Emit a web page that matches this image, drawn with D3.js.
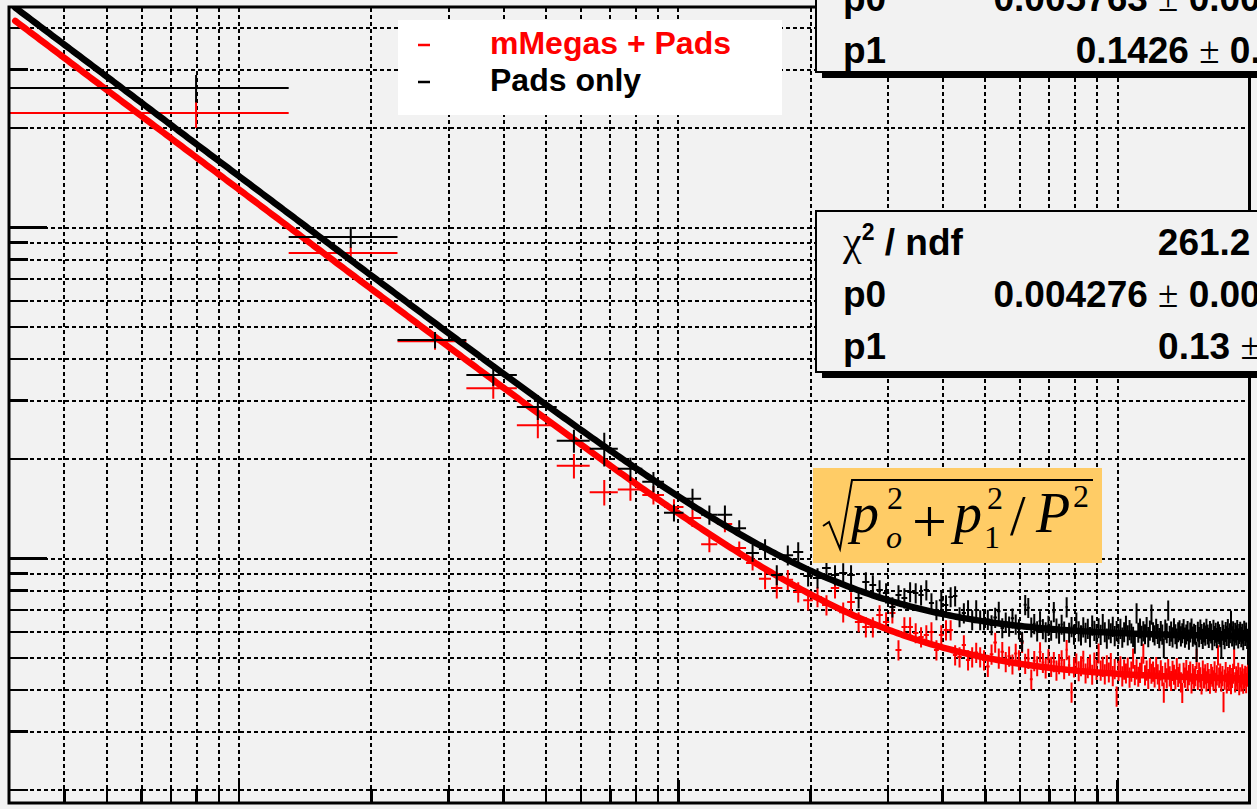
<!DOCTYPE html>
<html>
<head>
<meta charset="utf-8">
<script src="https://cdn.jsdelivr.net/npm/d3@7"></script>
<style>
  html, body { margin: 0; padding: 0; background: #f2f2f2; overflow: hidden; }
  svg { display: block; }
</style>
</head>
<body>
<svg id="chart" width="1257" height="809"></svg>
<script>
// Momentum bins: 1 GeV/c wide, first bin starts at 0.3 GeV/c
const binStart = 0.3;
const binWidth = 1;

// Resolution per bin, "Pads only" (black)
const resPads = [
  0.263, 0.0933, 0.0456, 0.0357, 0.0286, 0.0226, 0.0214, 0.0186, 0.0170, 0.0137,
  0.0151, 0.0135, 0.0135, 0.0123, 0.01035, 0.01064, 0.00889, 0.0102, 0.01043, 0.00882,
  0.00870, 0.00933, 0.00888, 0.00901, 0.00888, 0.00757, 0.00846, 0.00829, 0.00800, 0.00784,
  0.00711, 0.00773, 0.00757, 0.00790, 0.00784, 0.00773, 0.00800, 0.00731, 0.00697, 0.00746,
  0.00721, 0.00763, 0.00768, 0.00664, 0.00682, 0.00697, 0.00650, 0.00697, 0.00650, 0.00650,
  0.00652, 0.00628, 0.00661, 0.00690, 0.00615, 0.00640, 0.00622, 0.00658, 0.00631, 0.00610,
  0.00560, 0.00722, 0.00708, 0.00618, 0.00633, 0.00602, 0.00645, 0.00611, 0.00598, 0.00625,
  0.00605, 0.00688, 0.00614, 0.00592, 0.00630, 0.00601, 0.00711, 0.00596, 0.00620, 0.00588,
  0.00640, 0.00602, 0.00585, 0.00619, 0.00596, 0.00612, 0.00578, 0.00626, 0.00604, 0.00591,
  0.00615, 0.00587, 0.00633, 0.00598, 0.00572, 0.00610, 0.00594, 0.00621, 0.00582, 0.00603,
  0.00590, 0.00612, 0.00576, 0.00598, 0.00625, 0.00585, 0.00607, 0.00593, 0.00579, 0.00552,
  0.00682, 0.00596, 0.00614, 0.00583, 0.00602, 0.00590, 0.00620, 0.00578, 0.00605, 0.00676,
  0.00598, 0.00585, 0.00612, 0.00591, 0.00574, 0.00603, 0.00588, 0.00535, 0.00609, 0.00594,
  0.00695, 0.00583, 0.00601, 0.00577, 0.00615, 0.00590, 0.00572, 0.00598, 0.00606, 0.00581,
  0.00594, 0.00611, 0.00576, 0.00589, 0.00603, 0.00568, 0.00597, 0.00614, 0.00580, 0.00592,
  0.00586, 0.00522, 0.00600, 0.00578, 0.00609, 0.00591, 0.00571, 0.00597, 0.00584, 0.00612,
  0.00589, 0.00575, 0.00603, 0.00593, 0.00566, 0.00608, 0.00582, 0.00596, 0.00574, 0.00601,
  0.00590, 0.00578, 0.00540, 0.00605, 0.00587, 0.00570, 0.00599, 0.00583, 0.00611, 0.00575,
  0.00594, 0.00648, 0.00581, 0.00602, 0.00569, 0.00596, 0.00585, 0.00607, 0.00573, 0.00591,
  0.00600, 0.00578, 0.00592, 0.00566, 0.00604, 0.00583, 0.00597, 0.00571, 0.00512, 0.00589
];

// Resolution per bin, "mMegas + Pads" (red)
const resMMPads = [
  0.221, 0.0835, 0.0452, 0.0326, 0.0252, 0.0190, 0.0158, 0.0161, 0.0155, 0.01425,
  0.0132, 0.0110, 0.01267, 0.01072, 0.00966, 0.00865, 0.00812, 0.00860, 0.00789, 0.00746,
  0.00763, 0.00721, 0.00812, 0.00686, 0.00736, 0.00641, 0.00619, 0.00619, 0.00673, 0.00641,
  0.00682, 0.00527, 0.00619, 0.00619, 0.00594, 0.00577, 0.00585, 0.00598, 0.00527, 0.00585,
  0.00606, 0.00606, 0.00509, 0.00502, 0.00546, 0.00492, 0.00502, 0.00518, 0.00502, 0.00492,
  0.00470, 0.00512, 0.00556, 0.00498, 0.00521, 0.00486, 0.00505, 0.00478, 0.00515, 0.00492,
  0.00555, 0.00480, 0.00497, 0.00430, 0.00489, 0.00472, 0.00520, 0.00483, 0.00465, 0.00495,
  0.00470, 0.00486, 0.00458, 0.00479, 0.00492, 0.00463, 0.00528, 0.00474, 0.00393, 0.00468,
  0.00481, 0.00456, 0.00472, 0.00490, 0.00449, 0.00466, 0.00478, 0.00445, 0.00484, 0.00460,
  0.00516, 0.00458, 0.00470, 0.00446, 0.00475, 0.00452, 0.00483, 0.00441, 0.00463, 0.00382,
  0.00457, 0.00472, 0.00440, 0.00461, 0.00449, 0.00468, 0.00436, 0.00455, 0.00498, 0.00444,
  0.00462, 0.00439, 0.00451, 0.00470, 0.00515, 0.00443, 0.00458, 0.00432, 0.00466, 0.00448,
  0.00455, 0.00437, 0.00469, 0.00446, 0.00428, 0.00459, 0.00441, 0.00393, 0.00452, 0.00434,
  0.00463, 0.00440, 0.00426, 0.00457, 0.00445, 0.00431, 0.00466, 0.00438, 0.00449, 0.00422,
  0.00392, 0.00451, 0.00436, 0.00460, 0.00427, 0.00444, 0.00455, 0.00419, 0.00447, 0.00433,
  0.00441, 0.00497, 0.00429, 0.00452, 0.00437, 0.00416, 0.00458, 0.00434, 0.00446, 0.00425,
  0.00450, 0.00432, 0.00418, 0.00447, 0.00439, 0.00428, 0.00456, 0.00421, 0.00443, 0.00509,
  0.00436, 0.00449, 0.00424, 0.00441, 0.00368, 0.00430, 0.00453, 0.00419, 0.00438, 0.00426,
  0.00445, 0.00417, 0.00435, 0.00448, 0.00497, 0.00422, 0.00440, 0.00429, 0.00451, 0.00414,
  0.00437, 0.00425, 0.00446, 0.00418, 0.00433, 0.00442, 0.00420, 0.00439, 0.00490, 0.00366
];

// Errors of the low-momentum bins; higher bins carry a typical relative error
const errPads   = [0.025, 0.0067, 0.0026, 0.0026, 0.0025, 0.0018, 0.0025, 0.0015, 0.0012, 0.0008, 0.0011, 0.0009, 0.0009, 0.0007, 0.0006];
const errMMPads = [0.022, 0.0035, 0.0026, 0.0023, 0.0022, 0.0016, 0.0014, 0.0012, 0.0010, 0.0008, 0.0008, 0.0006, 0.0007, 0.0005, 0.0005];
const relErrHigh = 0.07;

// Fit results of sqrt(p0^2 + p1^2/P^2)
const fitPads   = { p0: 0.005763, p1: 0.1426 };
const fitMMPads = { p0: 0.004276, p1: 0.13 };
const fitRange  = [0.31, 200];

// Axis ranges and grid positions
const xDomain = [0.3, 200.3];
const yDomain = [0.001819, 0.4621];
const xMajor = [1, 10, 100];
const xMinor = [0.4, 0.5, 0.6, 0.7, 0.8, 0.9, 2, 3, 4, 5, 6, 7, 8, 9, 20, 30, 40, 50, 60, 70, 80, 90];
const yMajor = [0.01, 0.1];
const yMinor = [0.002, 0.003, 0.004, 0.005, 0.006, 0.007, 0.008, 0.009,
                0.02, 0.03, 0.04, 0.05, 0.06, 0.07, 0.08, 0.09, 0.2, 0.3, 0.4];

// Legend and statistics boxes
const legendLabels = ["mMegas + Pads", "Pads only"];
const legendColors = ["#ff0000", "#000000"];
const statsMMPads = [["chi2", "261.2 / 197"], ["p0", "0.004276 ± 0.000065"], ["p1", "0.13 ± 0.00"]];
const statsPads   = [["p0", "0.005763 ± 0.000071"], ["p1", "0.1426 ± 0.0012"]];

const svg = d3.select("#chart");
const W = 1257, H = 809;
const frame = { left: 9, right: 1249.5, top: 7, bottom: 803 };

svg.append("rect").attr("width", W).attr("height", H).attr("fill", "#f2f2f2");

const x = d3.scaleLog().domain(xDomain).range([frame.left, frame.right]);
const y = d3.scaleLog().domain(yDomain).range([frame.bottom, frame.top]);

svg.append("defs").append("clipPath").attr("id", "plotClip")
  .append("rect")
  .attr("x", frame.left).attr("y", frame.top)
  .attr("width", frame.right - frame.left).attr("height", frame.bottom - frame.top);

// Dashed grid
const grid = svg.append("g");
const xGridVals = xMajor.concat(xMinor);
const yGridVals = yMajor.concat(yMinor);
grid.append("g")
  .attr("transform", `translate(0,${frame.bottom})`)
  .call(d3.axisBottom(x).tickValues(xGridVals).tickSize(-(frame.bottom - frame.top)).tickFormat(""))
  .call(g => g.select(".domain").remove());
grid.append("g")
  .attr("transform", `translate(${frame.left},0)`)
  .call(d3.axisLeft(y).tickValues(yGridVals).tickSize(-(frame.right - frame.left)).tickFormat(""))
  .call(g => g.select(".domain").remove());
grid.selectAll("line")
  .attr("stroke", "#000").attr("stroke-width", 2).attr("stroke-dasharray", "4,3")
  .attr("shape-rendering", "crispEdges");

// Axis ticks pointing into the frame
function ticks(axisFn, scale, vals, len, transform) {
  svg.append("g").attr("transform", transform)
    .call(axisFn(scale).tickValues(vals).tickSize(-len).tickFormat(""))
    .call(g => g.select(".domain").remove())
    .selectAll("line").attr("stroke", "#000").attr("stroke-width", 2.5)
    .attr("shape-rendering", "crispEdges");
}
ticks(d3.axisBottom, x, xMinor, 14, `translate(0,${frame.bottom})`);
ticks(d3.axisBottom, x, xMajor, 23, `translate(0,${frame.bottom})`);
ticks(d3.axisLeft, y, yMinor, 19, `translate(${frame.left},0)`);
ticks(d3.axisLeft, y, yMajor, 38, `translate(${frame.left},0)`);

// Histograms with error crosses and their fits
const plot = svg.append("g").attr("clip-path", "url(#plotClip)");

function drawHist(vals, errs, color) {
  const pts = vals.map((v, i) => {
    const c = binStart + binWidth * (i + 0.5);
    const e = i < errs.length ? errs[i] : v * relErrHigh;
    return { c, v, e };
  });
  plot.append("g").selectAll("path").data(pts).join("path")
    .attr("d", d => `M${x(d.c - binWidth / 2)},${y(d.v)}H${x(d.c + binWidth / 2)}` +
                    `M${x(d.c)},${y(d.v + d.e)}V${y(Math.max(d.v - d.e, 1e-5))}`)
    .attr("fill", "none").attr("stroke", color).attr("stroke-width", 2);
}

function drawFit(fit, color) {
  const n = 400;
  const ps = d3.range(n + 1).map(k => fitRange[0] * Math.pow(fitRange[1] / fitRange[0], k / n));
  const line = d3.line()
    .x(p => x(p))
    .y(p => y(Math.sqrt(fit.p0 * fit.p0 + (fit.p1 * fit.p1) / (p * p))));
  plot.append("path").datum(ps).attr("d", line)
    .attr("fill", "none").attr("stroke", color).attr("stroke-width", 6.5)
    .attr("stroke-linecap", "round").attr("stroke-linejoin", "round");
}

drawHist(resMMPads, errMMPads, "#ff0000");
drawFit(fitMMPads, "#ff0000");
drawHist(resPads, errPads, "#000000");
drawFit(fitPads, "#000000");

// Frame
svg.append("rect")
  .attr("x", frame.left).attr("y", frame.top)
  .attr("width", frame.right - frame.left).attr("height", frame.bottom - frame.top)
  .attr("fill", "none").attr("stroke", "#000").attr("stroke-width", 3);

// Legend
const legend = svg.append("g");
legend.append("rect").attr("x", 398).attr("y", 20).attr("width", 384).attr("height", 95).attr("fill", "#ffffff");
legendLabels.forEach((lab, i) => {
  const yy = 45 + i * 37;
  legend.append("line").attr("x1", 418).attr("x2", 430).attr("y1", yy).attr("y2", yy)
    .attr("stroke", legendColors[i]).attr("stroke-width", 2.5);
  legend.append("text").attr("x", 490).attr("y", yy + 9)
    .attr("font-family", "'Liberation Sans', Arial, sans-serif").attr("font-weight", "bold")
    .attr("font-size", 32).attr("fill", legendColors[i]).text(lab);
});

// Statistics boxes
const statFont = "'Liberation Sans', Arial, sans-serif";
const symFont = "'Liberation Serif', 'Times New Roman', serif";
function statsBox(boxTop, boxH, firstBaseline, rows) {
  const g = svg.append("g");
  const bx = 816, bw = 600, rowH = 52;
  g.append("rect").attr("x", bx + 6).attr("y", boxTop + 6).attr("width", bw).attr("height", boxH).attr("fill", "#000");
  g.append("rect").attr("x", bx).attr("y", boxTop).attr("width", bw).attr("height", boxH)
    .attr("fill", "#f2f2f2").attr("stroke", "#000").attr("stroke-width", 2);
  rows.forEach((r, i) => {
    const by = firstBaseline + i * rowH;
    const lab = g.append("text").attr("x", 843).attr("y", by)
      .attr("font-family", statFont).attr("font-weight", "bold").attr("font-size", 37).attr("fill", "#000");
    if (r[0] === "chi2") {
      lab.append("tspan").attr("font-family", symFont).attr("font-weight", "normal").attr("font-size", 42).text("χ");
      lab.append("tspan").attr("font-size", 23).attr("dy", -15).text("2");
      lab.append("tspan").attr("dy", 15).text(" / ndf");
    } else {
      lab.text(r[0]);
    }
    const val = g.append("text").attr("x", 1343).attr("y", by).attr("text-anchor", "end")
      .attr("font-family", statFont).attr("font-weight", "bold").attr("font-size", 37).attr("fill", "#000");
    const parts = r[1].split("±");
    val.append("tspan").text(parts[0]);
    if (parts.length > 1) {
      val.append("tspan").attr("font-family", symFont).attr("font-weight", "normal").text("±");
      val.append("tspan").text(parts[1]);
    }
  });
}
statsBox(-89, 161, 11, statsPads);
statsBox(211, 161, 255, statsMMPads);

// Fit function label
const fx = svg.append("g");
fx.append("rect").attr("x", 813).attr("y", 468).attr("width", 289).attr("height", 95).attr("fill", "#ffcc66");
fx.append("path").attr("d", "M823,526 L829,522 L840,549 L852,480 L1093,480")
  .attr("fill", "none").attr("stroke", "#000").attr("stroke-width", 2).attr("stroke-linejoin", "miter");
const mathFont = "'Liberation Serif', 'Times New Roman', serif";
function mtext(xp, yp, size, italic, s) {
  fx.append("text").attr("x", xp).attr("y", yp).attr("font-family", mathFont)
    .attr("font-size", size).attr("font-style", italic ? "italic" : "normal").attr("fill", "#000").text(s);
}
mtext(851, 532, 56, true, "p");
mtext(886, 548, 32, true, "o");
mtext(887, 509, 32, false, "2");
mtext(912, 542, 62, false, "+");
mtext(954, 532, 56, true, "p");
mtext(984, 548, 32, false, "1");
mtext(987, 509, 32, false, "2");
mtext(1010, 535, 56, false, "/");
mtext(1036, 532, 56, true, "P");
mtext(1073, 507, 32, false, "2");
</script>
</body>
</html>
